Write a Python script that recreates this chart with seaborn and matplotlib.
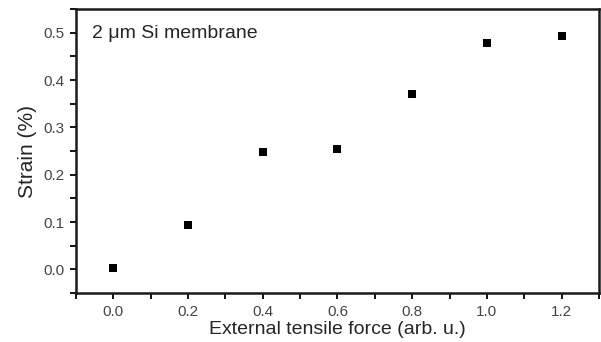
import matplotlib
matplotlib.use("Agg")
import matplotlib.pyplot as plt
import seaborn as sns
import pandas as pd
from matplotlib.ticker import MultipleLocator

# data
force = [0.0, 0.2, 0.4, 0.6, 0.8, 1.0, 1.2]
strain = [0.002, 0.094, 0.247, 0.254, 0.370, 0.478, 0.493]

df = pd.DataFrame({"force": force, "strain": strain})

sns.set_style("ticks")
plt.rcParams["font.family"] = ["Liberation Sans", "DejaVu Sans"]

fig = plt.figure(figsize=(6.01, 3.42), dpi=100)
ax = fig.add_axes([76/601, 1 - 293/342, (599-76)/601, (293-9)/342])

sns.scatterplot(data=df, x="force", y="strain", marker="s", s=30,
                color="black", edgecolor="black", linewidth=0, ax=ax)

ax.set_xlim(-0.1, 1.3)
ax.set_ylim(-0.05, 0.55)
ax.xaxis.set_minor_locator(MultipleLocator(0.1))
ax.yaxis.set_minor_locator(MultipleLocator(0.05))
ax.set_xticks([0.0, 0.2, 0.4, 0.6, 0.8, 1.0, 1.2])
ax.set_xticklabels(["0.0", "0.2", "0.4", "0.6", "0.8", "1.0", "1.2"])
ax.set_yticks([0.0, 0.1, 0.2, 0.3, 0.4, 0.5])
ax.set_yticklabels(["0.0", "0.1", "0.2", "0.3", "0.4", "0.5"])
ax.tick_params(which="both", direction="out", length=4, width=1.3,
               labelsize=11, labelcolor="#444444", color="black")
ax.tick_params(axis="x", which="major", pad=5)
ax.tick_params(axis="y", which="major", pad=4)
for s in ax.spines.values():
    s.set_linewidth(1.8)
    s.set_color("#1a1a1a")

ax.set_xlabel("External tensile force (arb. u.)", fontsize=14, labelpad=1)
ax.set_ylabel("Strain (%)", fontsize=15, labelpad=5)
ax.text(0.03, 0.915, "2 \u03bcm Si membrane", transform=ax.transAxes,
        fontsize=14, va="center", ha="left")

fig.savefig("out.png", dpi=100)
